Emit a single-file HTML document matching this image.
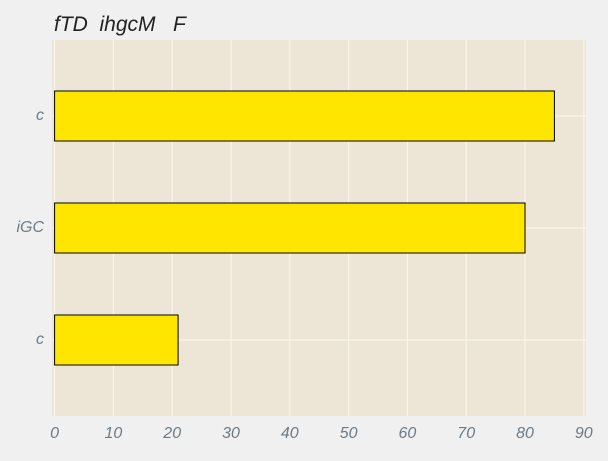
<!DOCTYPE html>
<html><head><meta charset="utf-8"><style>
body{margin:0;background:#f0f0f0;}
svg text{font-family:"Liberation Sans",sans-serif;font-style:italic;white-space:pre;}
</style></head><body>
<svg width="608" height="456" xmlns="http://www.w3.org/2000/svg">
<rect width="608" height="456" fill="#f0f0f0"/>
<text x="54" y="31" font-size="21" fill="#222" xml:space="preserve">fTD  ihgcM   F</text>
<rect x="52" y="40" width="534" height="376" fill="#ede6d6"/>
<g id="g"></g>
</svg>
<script>
const categories=["c","iGC","c"];
const values=[21,80,85];
const ticks=[0,10,20,30,40,50,60,70,80,90];
const x=v=>54.6+v*5.88;
const y=i=>340-i*112;
const g=document.getElementById('g');
const NS='http://www.w3.org/2000/svg';
function mk(t,a){const e=document.createElementNS(NS,t);for(const k in a)e.setAttribute(k,a[k]);g.appendChild(e);return e;}
ticks.forEach(t=>{
  const l=mk('line',{x1:x(t),x2:x(t),y1:40,y2:416,stroke:'#fbf8ec','stroke-width':1});
  
  
  const tx=mk('text',{x:x(t),y:438,'font-size':16,fill:'#6b7b86','text-anchor':'middle'});
  tx.textContent=t;
  
  
});
categories.forEach((c,i)=>{
  const l=mk('line',{x1:52,x2:586,y1:y(i),y2:y(i),stroke:'#fbf8ec','stroke-width':1});
  
  
});
categories.forEach((c,i)=>{
  const b=mk('rect',{x:x(0),y:y(i)-25,width:x(values[i])-x(0),height:50,fill:'#ffe600',stroke:'#000','stroke-width':1});
  
  
  const tx=mk('text',{x:44,y:y(i)+4,'font-size':16,fill:'#6b7b86','text-anchor':'end'});
  tx.textContent=c;
  
  
});
</script>
</body></html>
